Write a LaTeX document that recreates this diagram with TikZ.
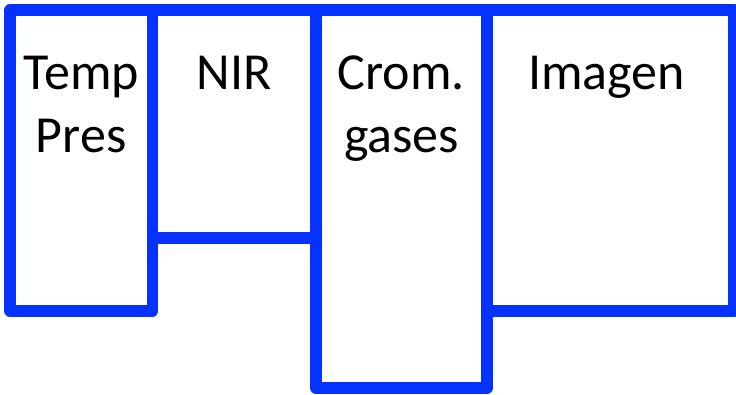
\documentclass[tikz,border=0pt]{standalone}
\usepackage{fontspec}
\setmainfont{Carlito}
\usetikzlibrary{positioning}
\definecolor{azul}{RGB}{5,50,255}
\tikzset{
    caja/.style={draw=azul, line width=11.5pt, line join=round, inner sep=0pt, outer sep=0pt, anchor=north west},
    etiqueta/.style={font=\fontsize{52}{63}\selectfont, align=center, inner sep=0pt}
}
\begin{document}
\begin{tikzpicture}[x=1pt,y=-1pt]
    \useasboundingbox (0,0) rectangle (736,394);

    \node[caja, minimum width=142.5pt, minimum height=301pt] (temp) at (10,10) {};
    \node[caja, minimum width=163.5pt, minimum height=228pt] (nir) at (temp.north east) {};
    \node[caja, minimum width=171pt, minimum height=378pt] (crom) at (nir.north east) {};
    \node[caja, minimum width=247pt, minimum height=301pt] (imagen) at (crom.north east) {};

    \node[etiqueta, below=46pt of temp.north] (ltemp) {Temp\\Pres};
    \node[etiqueta, below=46pt of nir.north] (lnir) {NIR};
    \node[etiqueta, below=46pt of crom.north] (lcrom) {Crom.\\gases};
    \node[etiqueta, below=46pt of imagen.north, xshift=-4pt] (limagen) {Imagen};
\end{tikzpicture}
\end{document}
